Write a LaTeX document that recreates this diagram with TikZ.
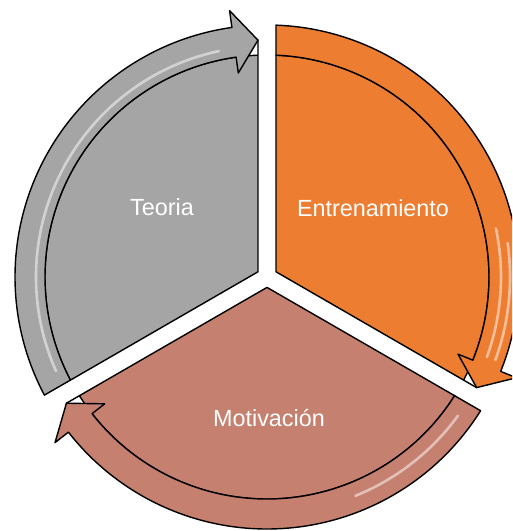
\documentclass[tikz,border=0pt]{standalone}
\usepackage{fontspec}
\setmainfont{Liberation Sans}
\usepackage{tikz}

\definecolor{teoriagray}{HTML}{A5A5A5}
\definecolor{entrenaorange}{HTML}{ED7D31}
\definecolor{motivrose}{HTML}{C5806F}

\begin{document}
\begin{tikzpicture}[scale=0.02,
  sector/.style={draw=black, line width=0.8pt, line join=round},
  gloss/.style={white, opacity=0.5, line width=1.5pt, line cap=round},
  sectortext/.style={text=white, font=\fontsize{13.3}{16}\selectfont}]
\useasboundingbox (-267,-254) rectangle (245,277);
\clip (-267,-254) rectangle (245,277);
% Teoria
\fill[teoriagray, sector] (150:10.4) -- (207.68:222) arc[start angle=207.68, end angle=92.32, radius=222] -- (92.18:237) -- cycle;
\fill[teoriagray, sector] (207.68:222) -- (207.95:252) arc[start angle=207.95, end angle=98, radius=252]
  -- (98:269) -- (92.18:237) -- (98:206) -- (98:222) arc[start angle=98, end angle=207.68, radius=222] -- cycle;
\draw[gloss] (204:231) arc[start angle=204, end angle=102, radius=231];
% Entrenamiento
\fill[entrenaorange, sector] (30:10.4) -- (87.68:222) arc[start angle=87.68, end angle=-27.68, radius=222] -- (-27.82:237) -- cycle;
\fill[entrenaorange, sector] (87.68:222) -- (87.95:252) arc[start angle=87.95, end angle=-22, radius=252]
  -- (-22:269) -- (-27.82:237) -- (-22:206) -- (-22:222) arc[start angle=-22, end angle=87.68, radius=222] -- cycle;
\draw[gloss] (12:234) arc[start angle=12, end angle=-20, radius=234];
\draw[gloss] (8:243) arc[start angle=8, end angle=-20, radius=243];
% Motivacion
\fill[motivrose, sector] (270:10.4) -- (327.68:222) arc[start angle=327.68, end angle=212.32, radius=222] -- (212.18:237) -- cycle;
\fill[motivrose, sector] (327.68:222) -- (327.95:252) arc[start angle=327.95, end angle=218, radius=252]
  -- (218:269) -- (212.18:237) -- (218:206) -- (218:222) arc[start angle=218, end angle=327.68, radius=222] -- cycle;
\draw[gloss] (324:236) arc[start angle=324, end angle=292, radius=236];
% texts
\node[sectortext] (teoria) at (-105,70) {Teoria};
\node[sectortext] (entrena) at (106,69) {Entrenamiento};
\node[sectortext] (motiv) at (2,-141) {Motivación};
\end{tikzpicture}
\end{document}
